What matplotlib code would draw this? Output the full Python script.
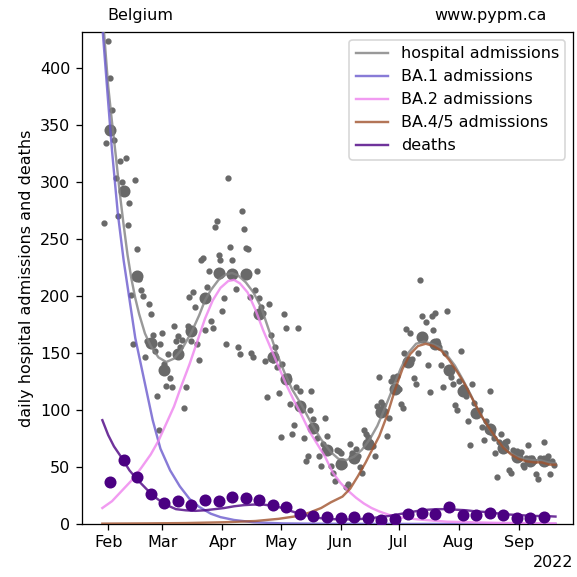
import pandas as pd
import matplotlib
matplotlib.use('Agg')
import matplotlib.pyplot as plt
import matplotlib.dates as mdates

# reference day for the day offsets below
t0 = pd.Timestamp('2022-02-01')

# daily hospital admissions, one value per day from 2022-01-30
hosp_daily = [
    264, 334, 423, 391, 363, 337, 303,
    270, 318, 300, 292, 321, 262, 281,
    201, 158, 302, 241, 215, 205, 200,
    146, 160, 193, 184, 166, 152, 112,
    82, 158, 167, 140, 121, 149, 128,
    120, 174, 160, 165, 155, 161, 102,
    120, 174, 199, 160, 203, 190, 158,
    144, 231, 233, 170, 208, 222, 178,
    172, 260, 266, 236, 231, 187, 198,
    158, 303, 243, 231, 220, 206, 155,
    149, 274, 259, 242, 241, 199, 150,
    146, 205, 222, 198, 190, 185, 143,
    111, 193, 166, 144, 155, 138, 115,
    76, 140, 184, 172, 130, 105, 79,
    87, 120, 172, 117, 100, 75, 55,
    60, 100, 117, 92, 85, 75, 60,
    51, 70, 93, 77, 66, 51, 45,
    38, 65, 64, 62, 55, 52, 32,
    35, 70, 62, 60, 66, 60, 50,
    45, 82, 79, 76, 72, 68, 68,
    60, 103, 129, 107, 104, 99, 77,
    93, 125, 129, 127, 130, 118, 105,
    102, 150, 171, 140, 167, 145, 128,
    123, 150, 214, 182, 163, 177, 139,
    116, 182, 170, 185, 160, 155, 139,
    120, 150, 187, 135, 129, 123, 104,
    100, 125, 152, 120, 115, 112, 90,
    69, 123, 106, 98, 98, 100, 85,
    74, 90, 82, 117, 80, 75, 62,
    41, 72, 79, 70, 72, 73, 47,
    45, 65, 62, 64, 60, 63, 52,
    50, 58, 69, 56, 58, 55, 44,
    39, 58, 56, 72, 56, 60, 44,
    55, 52,
]

# weekly values, one every 7 days from 2022-02-02
hosp_weekly = [345, 292, 217, 159, 135, 149, 169, 198, 220, 219, 219, 184,
               146, 127, 103, 84, 65, 53, 58, 70, 98, 118, 142, 164, 158,
               135, 117, 97, 83, 67, 59, 55, 55]
deaths_weekly = [37, 56, 41, 26, 18, 20, 17, 21, 20, 24, 23, 21, 17, 15,
                 8.5, 7, 6, 5, 6, 5, 3.5, 4.5, 8.5, 10, 8.5, 15, 8, 8, 10,
                 8, 5, 5, 6]

# model curves (day offset from Feb 1, value)
hosp_days = [-3, 0, 2, 4, 6, 8, 10, 12, 14, 16, 19, 22, 26, 30, 34, 38, 43,
             47, 50, 53, 57, 61, 64, 67, 71, 75, 79, 83, 87, 91, 95, 100, 105,
             110, 115, 119, 123, 127, 131, 135, 139, 143, 147, 151, 155, 159,
             163, 167, 171, 175, 179, 183, 187, 191, 195, 199, 203, 207, 211,
             215, 219, 223, 227, 231]
hosp_model = [450, 384, 352, 322, 290, 262, 236, 215, 198, 184, 167, 156, 146,
              142, 145, 153, 168, 183, 196, 205, 214, 219, 220, 218, 212, 203,
              190, 170, 150, 133, 118, 104, 88, 74, 63, 57, 56, 59, 65, 74, 86,
              102, 119, 136, 150, 158, 160, 158, 155, 148, 139, 127, 114, 100,
              88, 78, 69, 63, 59, 57, 56, 56, 54, 53]

ba1_days = [-3, 0, 2, 5, 8, 11, 14, 19, 23, 27, 32, 37, 42, 47, 53, 58, 65,
            75, 90, 110, 150, 231]
ba1_model = [436, 370, 327, 272, 231, 197, 163, 123, 91, 66, 47, 33, 22, 15,
             9, 6, 3.5, 1.5, 0.5, 0.2, 0.05, 0]

ba2_days = [-3, 2, 7, 12, 17, 22, 26, 30, 34, 38, 42, 46, 50, 54, 58, 62, 65,
            68, 72, 76, 80, 84, 88, 92, 96, 100, 104, 108, 112, 116, 120, 124,
            128, 132, 136, 140, 145, 150, 160, 175, 200, 231]
ba2_model = [14, 20, 29, 38, 49, 61, 73, 88, 103, 122, 140, 160, 180, 196, 207,
             213, 214, 211, 203, 188, 170, 154, 138, 122, 108, 95, 81, 70, 59,
             45, 36, 29, 23, 18, 14, 11, 8, 6, 4, 2, 1, 0.5]

ba45_days = [-3, 20, 40, 60, 76, 88, 98, 104, 110, 115, 121, 125, 129, 133,
             136, 140, 144, 148, 152, 156, 160, 164, 168, 172, 176, 180, 184,
             188, 192, 196, 200, 204, 208, 212, 216, 220, 224, 228, 231]
ba45_model = [0.3, 0.5, 0.8, 1.5, 2.6, 4.5, 7, 10, 14, 19, 24, 31, 42, 54, 64,
              77, 95, 117, 136, 149, 156, 158, 156, 152, 144, 134, 123, 110,
              97, 86, 76, 67, 61, 57, 55, 54, 54, 52, 52]

death_days = [-3, 0, 3, 7, 11, 15, 19, 23, 27, 31, 35, 40, 45, 50, 55, 60, 65,
              70, 75, 80, 85, 90, 95, 100, 105, 110, 115, 120, 125, 130, 135,
              140, 145, 150, 155, 160, 165, 170, 175, 180, 185, 190, 195, 200,
              205, 210, 215, 220, 225, 231]
death_model = [91, 78, 68, 58, 47, 39, 32, 25, 20, 16, 13, 12, 11.5, 12, 13,
               14, 15.5, 16.5, 17, 17, 16, 14, 11, 8.5, 6.5, 5, 4.3, 4, 4, 4.3,
               5, 6, 7, 8.5, 10, 11.5, 12.5, 13, 13, 12.5, 12, 11, 10.5, 9.5,
               8.5, 8, 7.5, 7, 7, 6.5]


def to_dates(days):
    return t0 + pd.to_timedelta(days, unit='D')


daily_dates = pd.date_range('2022-01-30', periods=len(hosp_daily), freq='D')
weekly_dates = pd.date_range('2022-02-02', periods=len(hosp_weekly), freq='7D')

fig = plt.figure(figsize=(5, 5), dpi=115.4)
ax = fig.add_axes([0.1416, 0.0919, 0.852, 0.853])

ax.plot(daily_dates, hosp_daily, 'o', color='dimgrey', ms=2.9, zorder=2)
ax.plot(weekly_dates, hosp_weekly, 'o', color='dimgrey', ms=6.5, zorder=2)
ax.plot(weekly_dates, deaths_weekly, 'o', color='indigo', ms=6.5, zorder=4)

# model curves
ax.plot(to_dates(hosp_days), hosp_model, color='grey', lw=1.5, alpha=0.8,
        label='hospital admissions', zorder=3)
ax.plot(to_dates(ba1_days), ba1_model, color='slateblue', lw=1.5, alpha=0.8,
        label='BA.1 admissions', zorder=3)
ax.plot(to_dates(ba2_days), ba2_model, color='violet', lw=1.5, alpha=0.8,
        label='BA.2 admissions', zorder=3)
ax.plot(to_dates(ba45_days), ba45_model, color='sienna', lw=1.5, alpha=0.8,
        label='BA.4/5 admissions', zorder=3)
ax.plot(to_dates(death_days), death_model, color='indigo', lw=1.5, alpha=0.8,
        label='deaths', zorder=3)

ax.set_xlim(pd.Timestamp('2022-01-18 08:00'), pd.Timestamp('2022-09-29 05:00'))
ax.set_ylim(0, 431.5)
ax.set_yticks(range(0, 401, 50))

locator = mdates.MonthLocator()
ax.xaxis.set_major_locator(locator)
ax.xaxis.set_major_formatter(mdates.ConciseDateFormatter(locator))

ax.set_ylabel('daily hospital admissions and deaths')
ax.legend(loc='upper right')

ax.text(0.0515, 1.034, 'Belgium', transform=ax.transAxes, ha='left', va='center')
ax.text(0.9465, 1.034, 'www.pypm.ca', transform=ax.transAxes, ha='right', va='center')

plt.savefig('out.png')
